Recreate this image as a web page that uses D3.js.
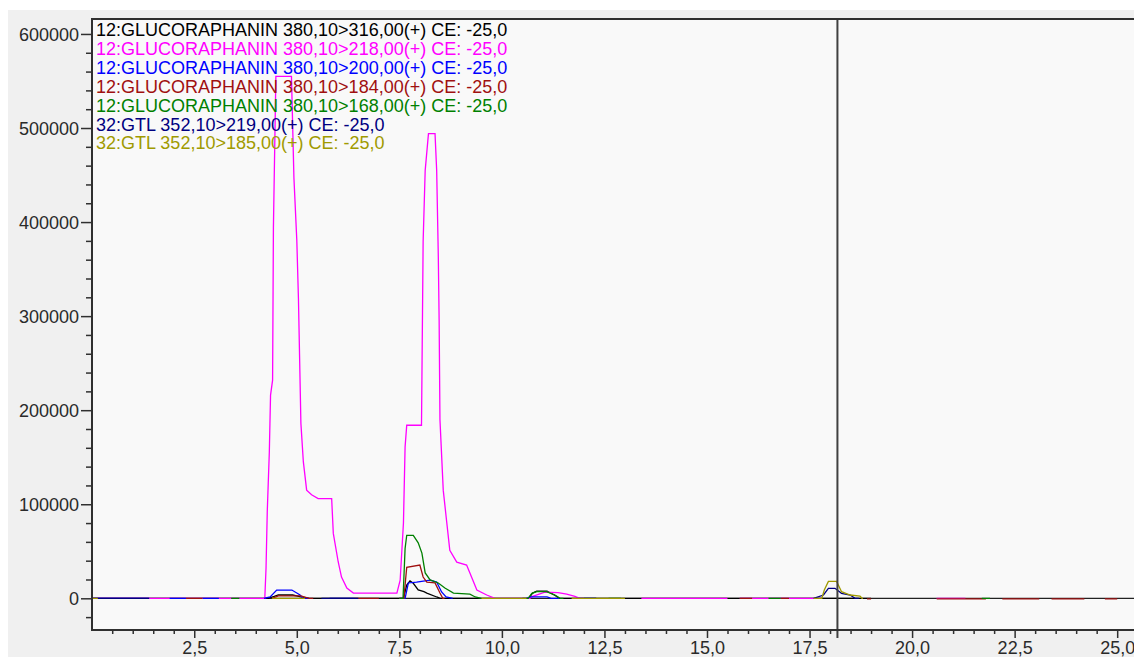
<!DOCTYPE html>
<html>
<head>
<meta charset="utf-8">
<script src="https://cdn.jsdelivr.net/npm/d3@7"></script>
<style>
  html, body { margin: 0; padding: 0; background: #ffffff; }
  svg { display: block; }
  text { font-family: "Liberation Sans", Arial, sans-serif; }
</style>
</head>
<body>
<svg id="chart" width="1134" height="657"></svg>
<script>
// ---------- DATA ----------
const legendLabels = [
  "12:GLUCORAPHANIN 380,10>316,00(+) CE: -25,0",
  "12:GLUCORAPHANIN 380,10>218,00(+) CE: -25,0",
  "12:GLUCORAPHANIN 380,10>200,00(+) CE: -25,0",
  "12:GLUCORAPHANIN 380,10>184,00(+) CE: -25,0",
  "12:GLUCORAPHANIN 380,10>168,00(+) CE: -25,0",
  "32:GTL 352,10>219,00(+) CE: -25,0",
  "32:GTL 352,10>185,00(+) CE: -25,0"
];
const seriesColors = ["#000000", "#ff00ff", "#0000ff", "#a01010", "#008000", "#000080", "#a09a00"];

const xTickValues = [2.5, 5, 7.5, 10, 12.5, 15, 17.5, 20, 22.5, 25];
const xTickLabels = ["2,5", "5,0", "7,5", "10,0", "12,5", "15,0", "17,5", "20,0", "22,5", "25,0"];
const yTickValues = [0, 100000, 200000, 300000, 400000, 500000, 600000];
const yTickLabels = ["0", "100000", "200000", "300000", "400000", "500000", "600000"];
const cursorTime = 18.18;

// [time (min), intensity]; null = gap in the trace
const s316 = [[0,0],[4.3,0],[4.45,2000],[4.55,3500],[4.9,3500],[5.1,1500],[5.3,0],[7.6,0],[7.68,14000],[7.76,18500],[7.84,16000],[7.96,9000],[8.1,7000],[8.17,5600],[8.41,1400],[8.5,0],[10.65,0],[10.75,5500],[10.85,7500],[11.1,7500],[11.3,3000],[11.4,0],[19.0,0]];
const s218 = [[0,0],[4.22,0],[4.25,32000],[4.28,92000],[4.33,155000],[4.36,216000],[4.41,232000],[4.43,394000],[4.49,555000],[4.87,555000],[4.93,447000],[5.0,381000],[5.04,319000],[5.10,186000],[5.16,145000],[5.24,115000],[5.36,110000],[5.52,106000],[5.85,106000],[5.89,69000],[6.01,38600],[6.09,22600],[6.22,11000],[6.38,5600],[7.44,5600],[7.52,19400],[7.60,80000],[7.64,161000],[7.68,184000],[8.04,184000],[8.08,379000],[8.13,455000],[8.21,494000],[8.37,494000],[8.41,455000],[8.45,363000],[8.47,296000],[8.49,190000],[8.57,115000],[8.65,83000],[8.73,51000],[8.90,38400],[9.14,35400],[9.22,26900],[9.39,8800],[9.63,3500],[9.83,0],[10.68,0],[10.75,2000],[11.05,6500],[11.37,6000],[11.58,4500],[11.78,2000],[11.9,0],[12.0,0],null,[13.4,0],[15.5,0],null,[15.8,0],[17.8,0],null,[20.6,0],[21.3,0]];
const s200 = [[0,0],[1.4,0],null,[1.9,0],[2.3,0],null,[2.7,0],[3.1,0],null,[4.2,0],[4.35,1400],[4.51,8800],[4.88,8800],[5.08,3500],[5.15,0],[5.3,0],null,[5.8,0],[6.4,0],null,[7.5,0],[7.64,0],[7.72,16300],[7.92,17300],[8.25,19400],[8.41,17300],[8.53,6700],[8.64,1400],[8.8,0],null,[10.6,0],[10.7,1500],[11.1,1500],[11.2,0],[11.4,0],null,[12.0,0],[12.3,0]];
const s184 = [[2.3,0],[2.7,0],null,[4.4,0],[4.55,2500],[5.1,2500],[5.3,0],[5.4,0],null,[6.4,0],[7.0,0],null,[7.5,0],[7.61,0],[7.68,33000],[8.0,35400],[8.08,22600],[8.17,17300],[8.37,16300],[8.49,5600],[8.56,0],[8.6,0],null,[15.8,0],[16.1,0],null,[16.8,0],[17.0,0],null,[18.9,-600],[19.0,-600],null,[20.6,-600],[21.8,-600],null,[22.2,-600],[23.1,-600],null,[23.4,-600],[24.2,-600],null,[24.7,-600],[25.0,-600]];
const s168 = [[3.4,0],[3.6,0],null,[7.5,0],[7.59,0],[7.64,53000],[7.68,67000],[7.84,67000],[7.96,59000],[8.05,48000],[8.13,27000],[8.25,19500],[8.45,16300],[8.61,11000],[8.82,5600],[9.22,4500],[9.35,1400],[9.5,0],null,[10.5,0],[10.64,0],[10.73,5300],[10.85,7000],[11.09,7000],[11.29,3500],[11.42,0],[11.5,0],null,[12.6,0],[12.9,0],null,[16.5,0],[16.8,0],null,[21.7,0],[21.9,0]];
const s219 = [[0,0],[1.4,0],null,[5.6,0],[6.5,0],null,[11.8,0],[12.3,0],null,[17.6,0],[17.84,3500],[17.96,10600],[18.12,10600],[18.28,5300],[18.49,3500],[18.61,0],[18.7,0]];
const s185 = [[0,0],[0.15,0],null,[4.4,0],[5.2,0],null,[9.5,0],[10.6,0],null,[11.7,0],[13.0,0],null,[17.6,0],[17.8,0],[17.86,8800],[17.96,18000],[18.16,18000],[18.28,7000],[18.49,3500],[18.73,2400],[18.78,0],[18.8,0]];

const seriesData = [s316, s218, s200, s184, s168, s219, s185];

// ---------- LAYOUT ----------
const svg = d3.select("#chart");
const W = 1134, H = 657;
const plot = { left: 92, top: 19, right: 1134, bottom: 630 };

const x = d3.scaleLinear().domain([0, 25.41]).range([91.7, 1134]);
const y = d3.scaleLinear().domain([-33700, 615900]).range([630, 19]);

// figure background
svg.append("rect").attr("x", 8).attr("y", 10).attr("width", W - 8).attr("height", H - 10).attr("fill", "#f0f0f0");
svg.append("rect").attr("x", plot.left).attr("y", plot.top)
  .attr("width", plot.right - plot.left).attr("height", plot.bottom - plot.top).attr("fill", "#f9f9f9");

// clip
svg.append("clipPath").attr("id", "clip").append("rect")
  .attr("x", plot.left).attr("y", plot.top).attr("width", plot.right - plot.left).attr("height", plot.bottom - plot.top);

// zero line
svg.append("line").attr("x1", plot.left).attr("x2", plot.right)
  .attr("y1", y(0)).attr("y2", y(0)).attr("stroke", "#222").attr("stroke-width", 1.2);

// traces
const line = d3.line().defined(d => d !== null).x(d => x(d[0])).y(d => y(d[1]));
const g = svg.append("g").attr("clip-path", "url(#clip)");
seriesData.forEach((s, i) => {
  g.append("path").datum(s).attr("d", line).attr("fill", "none")
    .attr("stroke", seriesColors[i]).attr("stroke-width", 1.3).attr("stroke-linejoin", "miter");
});

// cursor line
svg.append("line").attr("x1", x(cursorTime)).attr("x2", x(cursorTime))
  .attr("y1", plot.top).attr("y2", plot.bottom + 8).attr("stroke", "#404040").attr("stroke-width", 2);

// axes
const axisColor = "#303030";
// x minor ticks
const xMinor = d3.range(0.5, 25.5, 0.5).filter(v => Math.abs(v / 2.5 - Math.round(v / 2.5)) > 1e-6);
const gxMinor = svg.append("g").attr("transform", `translate(0,${plot.bottom})`)
  .call(d3.axisBottom(x).tickValues(xMinor).tickSize(4).tickFormat(""));
const gx = svg.append("g").attr("transform", `translate(0,${plot.bottom})`)
  .call(d3.axisBottom(x).tickValues(xTickValues).tickSize(8).tickPadding(4)
    .tickFormat((d, i) => xTickLabels[i]));
// y minor ticks
const yMinor = d3.range(-20000, 600001, 20000).filter(v => v % 100000 !== 0);
const gyMinor = svg.append("g").attr("transform", `translate(${plot.left},0)`)
  .call(d3.axisLeft(y).tickValues(yMinor).tickSize(6).tickFormat(""));
const gy = svg.append("g").attr("transform", `translate(${plot.left},0)`)
  .call(d3.axisLeft(y).tickValues(yTickValues).tickSize(11).tickPadding(2)
    .tickFormat((d, i) => yTickLabels[i]));

[gxMinor, gx, gyMinor, gy].forEach(a => {
  a.select(".domain").remove();
  a.selectAll(".tick line").attr("stroke", axisColor).attr("stroke-width", 1.5);
  a.selectAll(".tick text").attr("fill", "#2a2a2a").style("font-size", "18px")
    .style("font-family", '"Liberation Sans", Arial, sans-serif');
});
gx.selectAll(".tick text").attr("dy", null).attr("y", 24);
gy.selectAll(".tick text").attr("dy", "0.36em");

// frame lines
svg.append("line").attr("x1", plot.left).attr("x2", plot.right).attr("y1", plot.bottom).attr("y2", plot.bottom)
  .attr("stroke", axisColor).attr("stroke-width", 2);
svg.append("line").attr("x1", plot.left).attr("x2", plot.right).attr("y1", plot.top).attr("y2", plot.top)
  .attr("stroke", axisColor).attr("stroke-width", 2);
svg.append("line").attr("x1", plot.left).attr("x2", plot.left).attr("y1", plot.top - 1).attr("y2", plot.bottom + 1)
  .attr("stroke", axisColor).attr("stroke-width", 2);

// legend
const lg = svg.append("g");
legendLabels.forEach((t, i) => {
  lg.append("text").attr("x", 96).attr("y", 36 + i * 18.9)
    .attr("fill", seriesColors[i]).style("font-size", "18px").text(t);
});
</script>
</body>
</html>
